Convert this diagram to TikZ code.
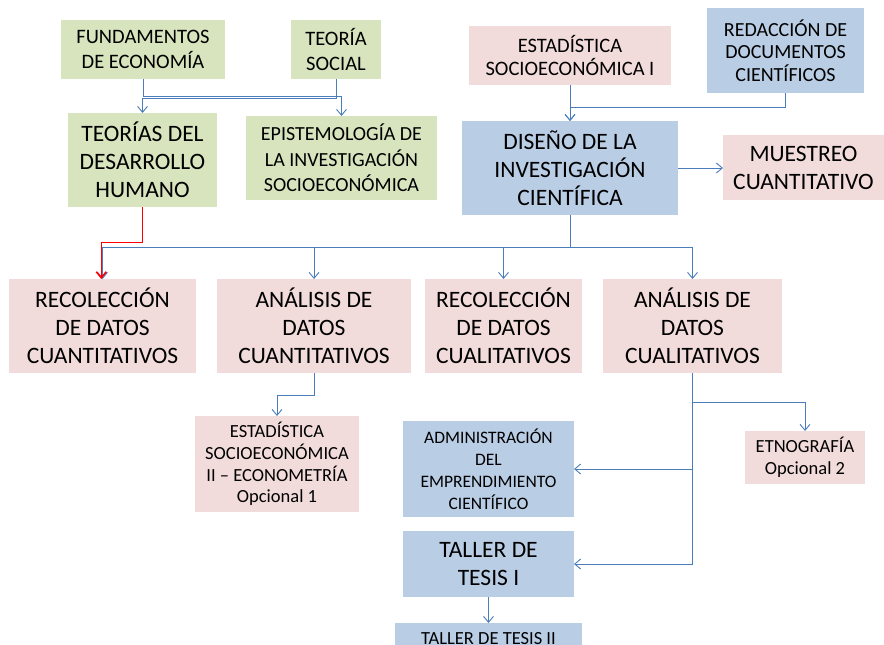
\documentclass[tikz,border=0pt]{standalone}
\usepackage{fontspec}
\setmainfont{Carlito}
\usetikzlibrary{arrows.meta,calc}
\definecolor{gr}{HTML}{D7E4BD}
\definecolor{pk}{HTML}{F2DCDB}
\definecolor{bl}{HTML}{B9CDE5}
\definecolor{ln}{HTML}{4A7EBB}
\definecolor{rd}{HTML}{FF0000}
\begin{document}
\begin{tikzpicture}[x=1pt,y=-1pt,
  box/.style={inner sep=0pt, outer sep=0pt, align=center, text=black},
  big/.style={font=\fontsize{23.5}{28}\selectfont},
  med/.style={font=\fontsize{20.5}{24.5}\selectfont},
  sml/.style={font=\fontsize{18}{22}\selectfont},
  conn/.style={draw=ln, line width=0.9pt, -{Straight Barb[length=6pt,width=10pt]}},
  ]
\useasboundingbox (0,0) rectangle (884,645);
\clip (0,0) rectangle (884,645);

% top left
\node[box,med,fill=gr,minimum width=164pt,minimum height=59pt] (fund) at (143,49.5) {FUNDAMENTOS\\DE ECONOMÍA};
\node[box,med,fill=gr,minimum width=90pt,minimum height=59pt] (teoria) at (336,49.5) {TEORÍA\\SOCIAL};
\node[box,big,fill=gr,minimum width=149pt,minimum height=94pt] (teorias) at (142.5,160) {TEORÍAS DEL\\DESARROLLO\\HUMANO};
\node[box,fill=gr,minimum width=191pt,minimum height=84pt,font=\fontsize{20}{25.5}\selectfont] (epist) at (341.5,158) {EPISTEMOLOGÍA DE\\LA INVESTIGACIÓN\\SOCIOECONÓMICA};

% top right
\node[box,fill=pk,minimum width=202pt,minimum height=59pt,font=\fontsize{20.5}{23.7}\selectfont] (estad1) at (570,55.5) {ESTADÍSTICA\\SOCIOECONÓMICA I};
\node[box,fill=bl,minimum width=157pt,minimum height=85pt,font=\fontsize{20}{22.5}\selectfont] (redac) at (785.5,50.5) {REDACCIÓN DE\\DOCUMENTOS\\CIENTÍFICOS};
\node[box,big,fill=bl,minimum width=216pt,minimum height=94pt] (diseno) at (570,168) {DISEÑO DE LA\\INVESTIGACIÓN\\CIENTÍFICA};
\node[box,big,fill=pk,minimum width=161pt,minimum height=65pt] (muestreo) at (803.5,167.5) {MUESTREO\\CUANTITATIVO};

% middle row
\node[box,big,fill=pk,minimum width=187pt,minimum height=94pt] (reccuant) at (102.5,326) {RECOLECCIÓN\\DE DATOS\\CUANTITATIVOS};
\node[box,big,fill=pk,minimum width=194pt,minimum height=94pt] (ancuant) at (314,326) {ANÁLISIS DE\\DATOS\\CUANTITATIVOS};
\node[box,big,fill=pk,minimum width=157pt,minimum height=94pt] (reccuali) at (503.5,326) {RECOLECCIÓN\\DE DATOS\\CUALITATIVOS};
\node[box,big,fill=pk,minimum width=179pt,minimum height=94pt] (ancuali) at (692.5,326) {ANÁLISIS DE\\DATOS\\CUALITATIVOS};

% bottom
\node[box,fill=pk,minimum width=164pt,minimum height=96pt,font=\fontsize{18.5}{21.7}\selectfont] (estad2) at (277,464) {ESTADÍSTICA\\SOCIOECONÓMICA\\II – ECONOMETRÍA\\Opcional 1};
\node[box,fill=bl,minimum width=171pt,minimum height=96pt,font=\fontsize{17.5}{22}\selectfont] (admin) at (488.5,469) {ADMINISTRACIÓN\\DEL\\EMPRENDIMIENTO\\CIENTÍFICO};
\node[box,big,fill=bl,minimum width=171pt,minimum height=66pt] (taller1) at (488.5,564) {TALLER DE\\TESIS I};
\node[box,fill=bl,minimum width=187pt,minimum height=32pt,font=\fontsize{18.5}{22}\selectfont] (taller2) at (488.5,639) {TALLER DE TESIS II};
\node[box,fill=pk,minimum width=120pt,minimum height=53pt,font=\fontsize{18.5}{22}\selectfont] (etno) at (805,457.5) {ETNOGRAFÍA\\Opcional 2};

% connectors top left
\draw[conn] (fund.south) -- ++(0,17) -| (epist.north);
\draw[conn] (teoria.south) -- ++(0,19.5) -| (teorias.north);

% connectors top right
\draw[conn] (estad1.south) -- (diseno.north);
\draw[conn] (redac.south) -- ++(0,14) -| (diseno.north);
\draw[conn] (diseno.east) -- (muestreo.west |- diseno.east);

% diseno bus
\draw[conn] (diseno.south) -- ++(0,32) -| (reccuant.north);
\draw[conn] (diseno.south) -- ++(0,32) -| (ancuant.north);
\draw[conn] (diseno.south) -- ++(0,32) -| (reccuali.north);
\draw[conn] (diseno.south) -- ++(0,32) -| (ancuali.north);
\draw[draw=rd, line width=1.6pt, -{Straight Barb[length=6pt,width=10pt]}] (teorias.south) -- ++(0,35.5) -| ($(reccuant.north)+(-1.2,0)$);

% lower connectors
\draw[conn] (ancuant.south) -- ++(0,22) -| (estad2.north);
\draw[conn] (ancuali.south) -- ++(0,29) -| (etno.north);
\draw[conn] (ancuali.south) |- (admin.east);
\draw[conn] (ancuali.south) |- (taller1.east);
\draw[conn] (taller1.south) -- (taller2.north);
\end{tikzpicture}
\end{document}
